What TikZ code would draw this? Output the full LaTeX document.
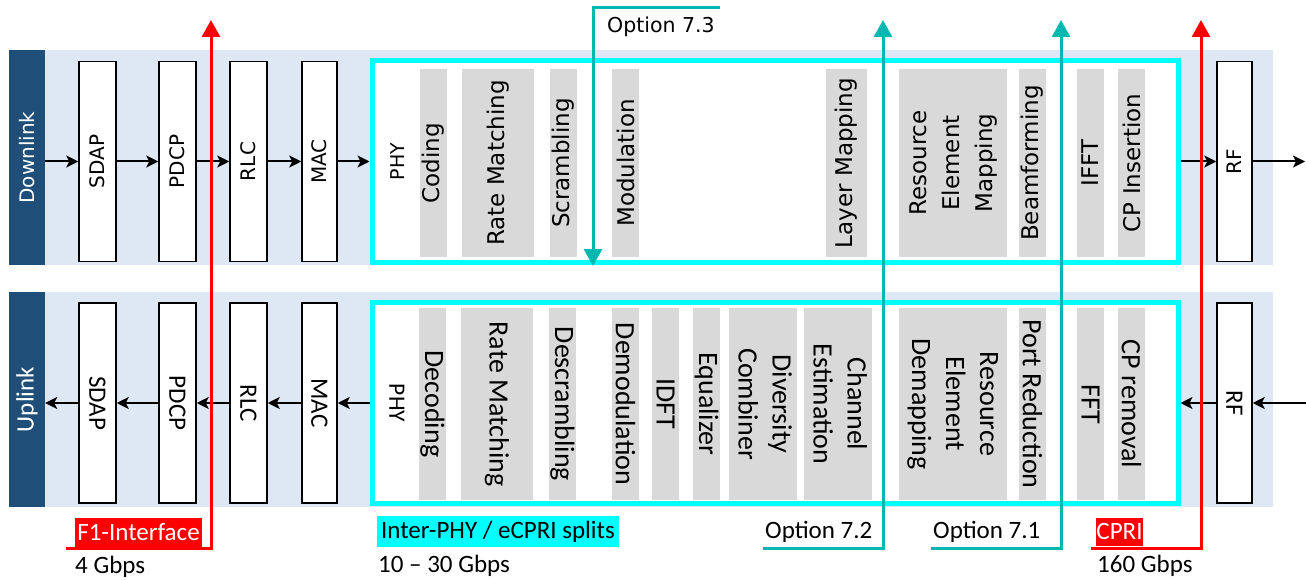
\documentclass[tikz,border=0pt]{standalone}
\usepackage{fontspec}
\setmainfont{Carlito}
\newfontfamily\djv{DejaVu Sans}
\usetikzlibrary{arrows.meta}
\definecolor{band}{HTML}{DEE8F4}
\definecolor{navy}{HTML}{1F4E79}
\definecolor{gblock}{HTML}{D9D9D9}
\definecolor{teal2}{HTML}{00B8B0}
\definecolor{cyan2}{HTML}{00FFFF}
\tikzset{
 wblk/.style={draw=black, fill=white, line width=1.5pt, inner sep=0pt},
 dg/.style={fill=gblock, draw=none, inner sep=0pt, minimum height=188pt, font=\djv\fontsize{23}{33}\selectfont},
 ug/.style={fill=gblock, draw=none, inner sep=0pt, minimum height=192pt, font=\fontsize{28}{34}\selectfont},
 dlab/.style={font=\djv\fontsize{20}{24}\selectfont},
 ulab/.style={font=\fontsize{25}{30}\selectfont},
 dwb/.style={wblk, minimum height=200pt, dlab},
 uwb/.style={wblk, minimum height=200pt, ulab},
 arr/.style={line width=2pt, -{Stealth[length=12pt,width=12pt,inset=3pt]}},
 redl/.style={draw=red, line width=3pt, -{Triangle[length=17pt,width=18pt]}},
 teall/.style={draw=teal2, line width=3pt, -{Triangle[length=17pt,width=18pt]}},
 phyb/.style={draw=cyan2, fill=white, line width=5pt, inner sep=0pt, minimum width=806pt, minimum height=201pt},
 sidelab/.style={fill=navy, draw=none, inner sep=0pt, minimum width=36pt, minimum height=215pt, text=white},
}
\begin{document}
\begin{tikzpicture}[x=1pt,y=-1pt]
\useasboundingbox (0,0) rectangle (1306,580);
% bands
\path[fill=band] (45,50) rectangle (1273,265);
\path[fill=band] (45,292) rectangle (1273,507);
\node[sidelab, dlab] (dl) at (27,157.5) {\rotatebox{90}{Downlink}};
\node[sidelab, ulab] (ul) at (27,399.5) {\rotatebox{90}{Uplink}};
% downlink white blocks
\node[dwb, minimum width=37pt] (dsdap) at (97.5,161.5) {\rotatebox{90}{SDAP}};
\node[dwb, minimum width=37pt] (dpdcp) at (177.5,161.5) {\rotatebox{90}{PDCP}};
\node[dwb, minimum width=37pt] (drlc) at (248.5,161.5) {\rotatebox{90}{RLC}};
\node[dwb, minimum width=35pt] (dmac) at (319.5,161.5) {\rotatebox{90}{MAC}};
\node[dwb, minimum width=35pt] (drf) at (1234.5,161.5) {\rotatebox{90}{RF}};
% uplink white blocks
\node[uwb, minimum width=37pt] (usdap) at (97.5,403) {\rotatebox{-90}{SDAP}};
\node[uwb, minimum width=37pt] (updcp) at (177.5,403) {\rotatebox{-90}{PDCP}};
\node[uwb, minimum width=37pt] (urlc) at (248.5,403) {\rotatebox{-90}{RLC}};
\node[uwb, minimum width=35pt] (umac) at (319.5,403) {\rotatebox{-90}{MAC}};
\node[uwb, minimum width=35pt] (urf) at (1234.5,403) {\rotatebox{-90}{RF}};
% PHY boxes
\node[phyb] (dphy) at (775,161.5) {};
\node[phyb] (uphy) at (775,403) {};
\node[font=\djv\fontsize{19}{23}\selectfont] (dphyt) at (398,161.5) {\rotatebox{90}{PHY}};
\node[font=\fontsize{23.5}{28}\selectfont] (uphyt) at (397,403) {\rotatebox{-90}{PHY}};
% downlink grey blocks
\node[dg, minimum width=27pt] (dcod) at (433.5,163) {\rotatebox{90}{Coding}};
\node[dg, minimum width=72pt] (drm) at (498,163) {\rotatebox{90}{Rate Matching}};
\node[dg, minimum width=27pt] (dscr) at (563.5,163) {\rotatebox{90}{Scrambling}};
\node[dg, minimum width=27pt] (dmod) at (625.5,163) {\rotatebox{90}{Modulation}};
\node[dg, minimum width=41pt] (dlay) at (846.5,163) {\rotatebox{90}{Layer Mapping}};
\node[dg, minimum width=108pt] (drem) at (953,163) {\rotatebox{90}{\begin{tabular}{@{}c@{}}Resource\\Element\\Mapping\end{tabular}}};
\node[dg, minimum width=27pt] (dbf) at (1032.5,163) {\rotatebox{90}{Beamforming}};
\node[dg, minimum width=27pt] (difft) at (1090.5,163) {\rotatebox{90}{IFFT}};
\node[dg, minimum width=27pt] (dcp) at (1131.5,163) {\rotatebox{90}{CP Insertion}};
% uplink grey blocks
\node[ug, minimum width=27pt] (udec) at (432.5,404) {\rotatebox{-90}{Decoding}};
\node[ug, minimum width=72pt] (urm) at (497,404) {\rotatebox{-90}{Rate Matching}};
\node[ug, minimum width=27pt] (udes) at (562.5,404) {\rotatebox{-90}{Descrambling}};
\node[ug, minimum width=27pt] (udem) at (625.5,404) {\rotatebox{-90}{Demodulation}};
\node[ug, minimum width=27pt] (uidft) at (665.5,404) {\rotatebox{-90}{IDFT}};
\node[ug, minimum width=27pt] (ueq) at (706.5,404) {\rotatebox{-90}{Equalizer}};
\node[ug, minimum width=57pt] (udiv) at (762.5,404) {\rotatebox{-90}{\begin{tabular}{@{}c@{}}Diversity\\Combiner\end{tabular}}};
\node[ug, minimum width=59pt] (uche) at (837.5,404) {\rotatebox{-90}{\begin{tabular}{@{}c@{}}Channel\\Estimation\end{tabular}}};
\node[ug, minimum width=108pt] (urem) at (953,404) {\rotatebox{-90}{\begin{tabular}{@{}c@{}}Resource\\Element\\Demapping\end{tabular}}};
\node[ug, minimum width=27pt] (upr) at (1032.5,404) {\rotatebox{-90}{Port Reduction}};
\node[ug, minimum width=27pt] (ufft) at (1090.5,404) {\rotatebox{-90}{FFT}};
\node[ug, minimum width=27pt] (ucp) at (1131.5,404) {\rotatebox{-90}{CP removal}};
% black arrows downlink
\coordinate (dout) at (1305,161.5);
\draw[arr] (dl.east |- dsdap.west) -- (dsdap.west);
\draw[arr] (dsdap.east) -- (dpdcp.west);
\draw[arr] (dpdcp.east) -- (drlc.west);
\draw[arr] (drlc.east) -- (dmac.west);
\draw[arr] (dmac.east) -- (dphy.west);
\draw[arr] (dphy.east) -- (drf.west);
\draw[arr] (drf.east) -- (dout);
% black arrows uplink
\coordinate (uin) at (1306,403);
\draw[arr] (uin) -- (urf.east);
\draw[arr] (urf.west) -- (uphy.east);
\draw[arr] (uphy.west) -- (umac.east);
\draw[arr] (umac.west) -- (urlc.east);
\draw[arr] (urlc.west) -- (updcp.east);
\draw[arr] (updcp.west) -- (usdap.east);
\draw[arr] (usdap.west) -- (ul.east |- usdap.west);
% split lines
\coordinate (f1s) at (66,548); \coordinate (f1e) at (211,20);
\coordinate (o3s) at (720,8); \coordinate (o3e) at (593,266);
\coordinate (o2s) at (763,548); \coordinate (o2e) at (883,20);
\coordinate (o1s) at (931,548); \coordinate (o1e) at (1061,20);
\coordinate (cps) at (1091,548); \coordinate (cpe) at (1201,20);
\draw[redl] (f1s) -| (f1e);
\draw[teall] (o3s) -| (o3e);
\draw[teall] (o2s) -| (o2e);
\draw[teall] (o1s) -| (o1e);
\draw[redl] (cps) -| (cpe);
% labels
\node[fill=red, text=white, ulab, inner sep=0pt, minimum width=127pt, minimum height=29pt] (f1lab) at (138.5,532.5) {F1-Interface};
\node[ulab, anchor=base west, inner sep=0pt] (f1rate) at (75,573) {4 Gbps};
\node[fill=cyan2, ulab, inner sep=0pt, minimum width=242pt, minimum height=31pt] (iplab) at (498,531.5) {Inter-PHY / eCPRI splits};
\node[ulab, anchor=base west, inner sep=0pt] (iprate) at (378,572) {10 – 30 Gbps};
\node[fill=red, text=white, ulab, inner sep=0pt, minimum width=47pt, minimum height=28pt] (cprilab) at (1119.5,531.5) {CPRI};
\node[ulab, anchor=base west, inner sep=0pt] (cprirate) at (1097,572) {160 Gbps};
\node[font=\djv\fontsize{20.5}{24}\selectfont, anchor=base west, inner sep=0pt] (o73) at (607,33) {Option 7.3};
\node[ulab, anchor=base west, inner sep=0pt] (o72) at (765,538) {Option 7.2};
\node[ulab, anchor=base west, inner sep=0pt] (o71) at (933,538) {Option 7.1};
\end{tikzpicture}
\end{document}
